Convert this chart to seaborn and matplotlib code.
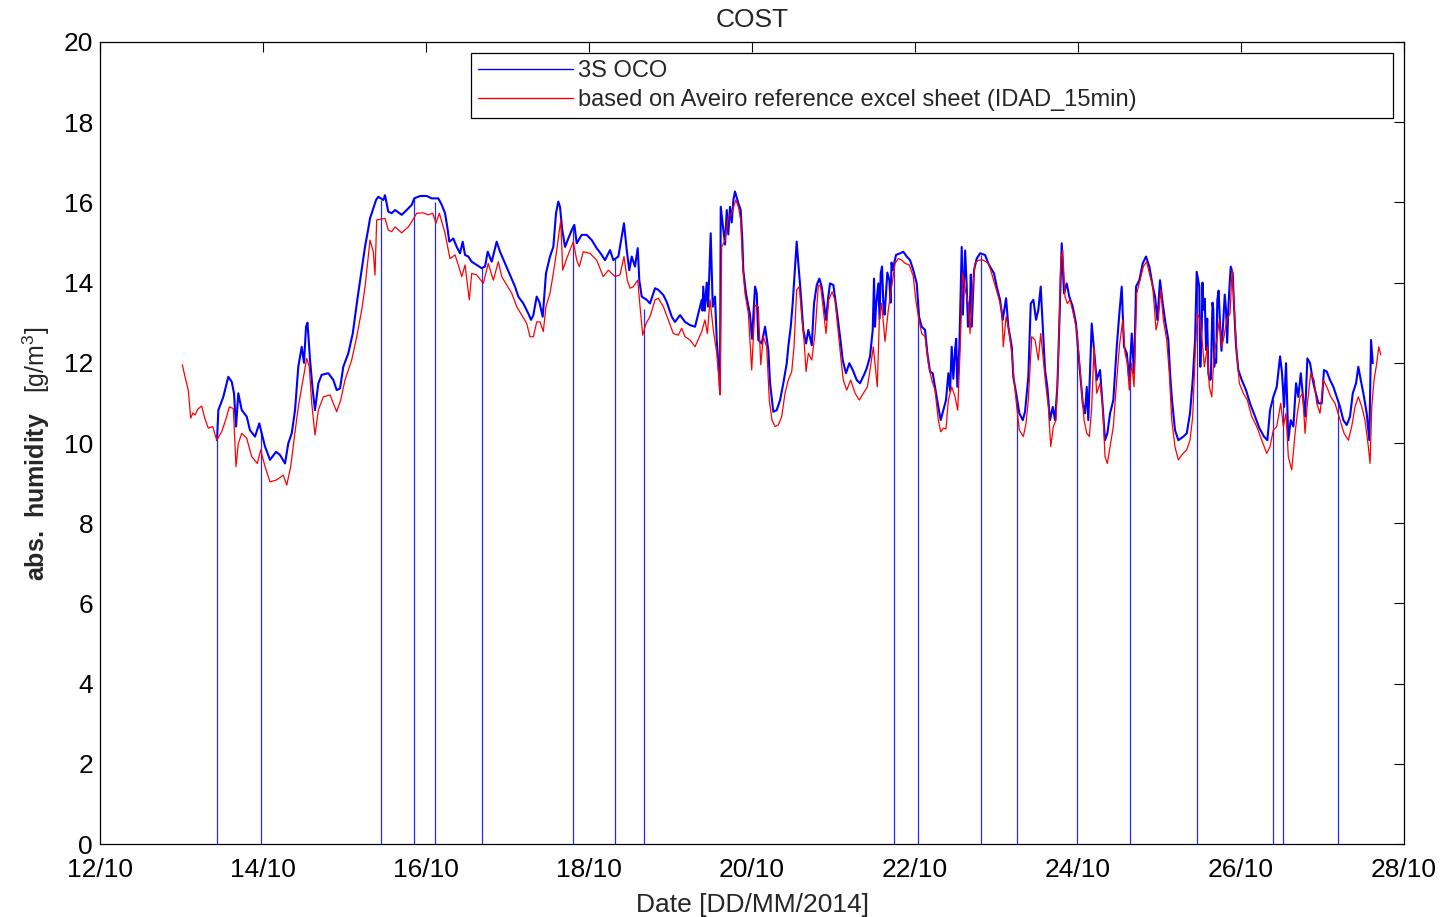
import numpy as np
import pandas as pd
import matplotlib
matplotlib.use("Agg")
import matplotlib.pyplot as plt
import seaborn as sns
from matplotlib.lines import Line2D

# ---- data: absolute humidity, 13/10 - 27/10/2014 (x = day of October) ----
blue_day = [
    13.436, 13.452, 13.513, 13.574, 13.616, 13.644, 13.669, 13.697, 13.739, 13.800, 13.840, 13.902, 13.955, 13.984,
    14.025, 14.086, 14.160, 14.209, 14.270, 14.310, 14.352, 14.393, 14.433, 14.475, 14.503, 14.528, 14.546,
    14.577, 14.610, 14.638, 14.679, 14.720, 14.801, 14.863, 14.904, 14.945, 14.985,
    15.047, 15.101, 15.129, 15.157, 15.202, 15.252, 15.288, 15.313, 15.362, 15.387, 15.415, 15.476, 15.497,
    15.537, 15.579, 15.620, 15.702, 15.763, 15.825, 15.856, 15.926,
    16.009, 16.070, 16.151, 16.193, 16.233, 16.261, 16.286, 16.335, 16.377, 16.417, 16.450, 16.479, 16.519,
    16.561, 16.622, 16.683, 16.724, 16.757, 16.806, 16.867, 16.908, 16.969,
    17.031, 17.092, 17.133, 17.194, 17.255, 17.288, 17.317, 17.358, 17.390, 17.432, 17.472, 17.521, 17.562,
    17.595, 17.623, 17.644, 17.672, 17.706, 17.746, 17.788, 17.820, 17.849, 17.910, 17.972,
    18.033, 18.094, 18.156, 18.196, 18.258, 18.298, 18.360, 18.401, 18.429, 18.463, 18.494, 18.524, 18.564,
    18.598, 18.617, 18.647, 18.708, 18.748, 18.810, 18.850, 18.912, 18.953,
    19.015, 19.055, 19.117, 19.178, 19.239, 19.301, 19.341, 19.383, 19.393, 19.402, 19.420, 19.444, 19.460,
    19.476, 19.493, 19.518, 19.546, 19.567, 19.599, 19.607, 19.616, 19.648, 19.669, 19.690, 19.709, 19.730,
    19.751, 19.771, 19.791, 19.832, 19.861, 19.881, 19.893, 19.926, 19.975,
    20.000, 20.037, 20.058, 20.077, 20.119, 20.160, 20.200, 20.221, 20.261, 20.303, 20.344, 20.384, 20.426,
    20.445, 20.475, 20.499, 20.528, 20.548, 20.568, 20.598, 20.629, 20.663, 20.691, 20.733, 20.761, 20.794,
    20.826, 20.855, 20.883, 20.908, 20.936, 20.957, 20.998,
    21.039, 21.080, 21.113, 21.153, 21.194, 21.236, 21.285, 21.325, 21.374, 21.407, 21.448, 21.481, 21.497,
    21.509, 21.521, 21.550, 21.565, 21.579, 21.595, 21.611, 21.626, 21.644, 21.660, 21.685, 21.700, 21.712,
    21.726, 21.767, 21.816, 21.856, 21.898, 21.939, 21.979,
    22.021, 22.049, 22.082, 22.123, 22.151, 22.184, 22.217, 22.245, 22.286, 22.315, 22.347, 22.380, 22.409,
    22.430, 22.450, 22.470, 22.491, 22.505, 22.519, 22.544, 22.573, 22.587, 22.601, 22.615, 22.634, 22.650,
    22.675, 22.685, 22.696, 22.724, 22.757, 22.798, 22.859, 22.899, 22.920, 22.969,
    23.002, 23.043, 23.076, 23.117, 23.145, 23.187, 23.206, 23.248, 23.280, 23.322, 23.350, 23.390, 23.420,
    23.452, 23.485, 23.513, 23.542, 23.567, 23.595, 23.623, 23.656, 23.690, 23.718, 23.746, 23.771, 23.800,
    23.828, 23.861, 23.893, 23.935, 23.975,
    24.004, 24.033, 24.058, 24.086, 24.107, 24.126, 24.168, 24.196, 24.229, 24.270, 24.303, 24.331, 24.360,
    24.393, 24.433, 24.475, 24.507, 24.536, 24.564, 24.598, 24.629, 24.659, 24.687, 24.712, 24.752, 24.794,
    24.834, 24.875, 24.917, 24.945, 24.973,
    25.006, 25.039, 25.067, 25.108, 25.129, 25.153, 25.190, 25.231, 25.292, 25.334, 25.374, 25.407, 25.436,
    25.456, 25.488, 25.500, 25.518, 25.527, 25.537, 25.555, 25.571, 25.585, 25.599, 25.610, 25.620, 25.630,
    25.641, 25.650, 25.660, 25.670, 25.681, 25.695, 25.709, 25.725, 25.742, 25.760, 25.783, 25.800, 25.816,
    25.830, 25.844, 25.858, 25.874, 25.898, 25.914, 25.939, 25.967,
    26.009, 26.061, 26.110, 26.172, 26.225, 26.282, 26.323, 26.356, 26.396, 26.438, 26.479, 26.503, 26.528,
    26.552, 26.580, 26.610, 26.642, 26.675, 26.703, 26.733, 26.764, 26.785, 26.814, 26.847, 26.880, 26.908,
    26.949, 26.990,
    27.018, 27.052, 27.092, 27.133, 27.174, 27.215, 27.255, 27.297, 27.337, 27.371, 27.411, 27.439, 27.469,
    27.501, 27.542, 27.574, 27.595, 27.616,
]
blue_val = [
    10.07, 10.82, 11.15, 11.65, 11.53, 11.24, 10.41, 11.24, 10.82, 10.66, 10.32, 10.16, 10.49, 10.24,
    9.91, 9.58, 9.78, 9.70, 9.49, 9.99, 10.24, 10.82, 11.90, 12.40, 12.00, 12.90, 13.00,
    12.07, 11.32, 10.82, 11.49, 11.70, 11.74, 11.57, 11.32, 11.36, 11.90,
    12.24, 12.73, 13.15, 13.57, 14.20, 14.90, 15.30, 15.60, 15.90, 16.06, 16.14, 16.06, 16.18,
    15.77, 15.73, 15.81, 15.69, 15.81, 15.94, 16.10, 16.16,
    16.16, 16.10, 16.10, 15.94, 15.73, 15.39, 15.02, 15.10, 14.89, 14.73, 15.02, 14.69, 14.65,
    14.52, 14.44, 14.36, 14.40, 14.77, 14.52, 15.02, 14.77, 14.48,
    14.19, 13.90, 13.65, 13.48, 13.23, 13.07, 13.19, 13.65, 13.52, 13.15, 14.23, 14.65, 14.89,
    15.73, 16.02, 15.89, 15.31, 14.89, 15.10, 15.31, 15.44, 14.98, 15.19, 15.19,
    15.06, 14.86, 14.69, 14.56, 14.81, 14.56, 14.65, 15.14, 15.48, 14.81, 14.31, 14.65, 14.40,
    14.86, 14.06, 13.65, 13.57, 13.48, 13.86, 13.82, 13.69, 13.52,
    13.15, 13.02, 13.19, 13.02, 12.94, 12.90, 13.23, 13.57, 13.30, 13.90, 13.30, 14.00, 13.40,
    14.20, 15.23, 13.40, 13.65, 12.57, 11.65, 11.30, 15.89, 15.31, 14.95, 15.81, 15.20, 15.89,
    15.50, 16.06, 16.27, 15.98, 15.81, 15.06, 14.31, 13.73, 13.20,
    12.60, 13.90, 13.73, 12.57, 12.48, 12.90, 12.32, 11.50, 10.78, 10.82, 11.07, 11.49, 11.99,
    12.40, 12.90, 13.48, 14.40, 15.02, 14.48, 13.73, 12.82, 12.48, 12.82, 12.44, 13.48, 13.94,
    14.10, 13.90, 13.48, 13.07, 13.65, 13.98, 13.94,
    13.32, 12.65, 12.07, 11.74, 11.99, 11.82, 11.57, 11.49, 11.70, 11.86, 12.16, 12.82, 14.10,
    12.90, 13.40, 13.98, 13.10, 14.23, 14.40, 13.48, 13.20, 13.73, 14.25, 14.06, 13.50, 14.50,
    14.31, 14.69, 14.73, 14.77, 14.65, 14.56, 14.31,
    13.98, 13.15, 12.90, 12.82, 12.24, 11.78, 11.74, 11.40, 10.90, 10.57, 10.82, 11.07, 11.74,
    11.30, 12.40, 11.60, 12.32, 12.60, 11.40, 12.40, 14.89, 13.20, 14.06, 14.80, 13.90, 12.90,
    13.48, 14.20, 12.90, 14.31, 14.60, 14.73, 14.69, 14.48, 14.40, 14.23,
    13.90, 13.57, 13.07, 13.61, 12.90, 12.40, 11.65, 11.15, 10.74, 10.57, 10.78, 11.65, 13.48,
    13.57, 13.07, 13.32, 13.90, 12.90, 11.82, 11.40, 10.57, 10.90, 10.57, 11.40, 12.98, 14.98,
    13.73, 13.98, 13.65, 13.40, 12.98,
    12.24, 11.57, 10.99, 10.74, 11.40, 10.57, 12.98, 12.32, 11.57, 11.82, 10.90, 10.07, 10.24,
    10.74, 11.07, 12.40, 13.23, 13.90, 12.40, 12.24, 11.57, 12.73, 11.74, 13.90, 14.06, 14.48,
    14.65, 14.40, 13.90, 13.65, 13.07,
    14.06, 13.48, 13.07, 12.57, 11.74, 11.07, 10.32, 10.07, 10.16, 10.24, 10.74, 11.57, 12.57,
    14.27, 13.90, 11.90, 12.90, 14.00, 13.32, 13.60, 12.32, 13.10, 11.74, 11.60, 11.57, 11.60,
    12.73, 13.50, 13.32, 11.90, 12.07, 12.00, 13.57, 13.80, 12.98, 12.30, 13.07, 13.70, 13.32,
    12.50, 13.32, 13.90, 14.40, 14.23, 13.40, 12.40, 11.82,
    11.57, 11.32, 10.99, 10.66, 10.37, 10.16, 10.07, 10.82, 11.15, 11.40, 12.16, 11.74, 10.90,
    11.99, 10.07, 10.57, 10.41, 11.49, 11.15, 11.74, 11.07, 10.66, 12.11, 11.99, 11.57, 11.32,
    10.99, 10.99,
    11.82, 11.78, 11.57, 11.40, 11.15, 10.90, 10.57, 10.45, 10.66, 11.24, 11.49, 11.90, 11.57,
    11.24, 10.74, 10.07, 12.57, 11.99,
]

# single-sample sensor dropouts of the 3S OCO record (value falls to 0)
dropout_day = [13.436, 13.975, 15.448, 15.853, 16.110, 16.687, 17.804, 18.319, 18.675, 21.742,
               22.037, 22.810, 23.252, 23.988, 24.638, 25.460, 26.393, 26.515, 27.190]
dropout_level = [10.07, 10.30, 16.06, 16.10, 16.02, 14.36, 15.40, 14.60, 13.35, 14.50,
                 13.60, 14.70, 11.00, 12.80, 11.80, 14.20, 11.10, 11.30, 11.00]

red_day = [
    13.010, 13.043, 13.083, 13.113, 13.141, 13.166, 13.202, 13.248, 13.288, 13.329, 13.383, 13.432, 13.493,
    13.546, 13.587, 13.636, 13.669, 13.697, 13.739, 13.800, 13.861, 13.930, 13.972,
    14.025, 14.086, 14.168, 14.249, 14.291, 14.340, 14.380, 14.433, 14.475, 14.536, 14.568, 14.598, 14.638,
    14.679, 14.740, 14.822, 14.904, 14.953,
    15.006, 15.088, 15.150, 15.211, 15.252, 15.288, 15.313, 15.353, 15.374, 15.395, 15.436, 15.497, 15.537,
    15.579, 15.620, 15.702, 15.783, 15.825, 15.886, 15.967,
    16.028, 16.082, 16.123, 16.163, 16.193, 16.233, 16.274, 16.294, 16.356, 16.396, 16.438, 16.479, 16.531,
    16.561, 16.622, 16.703, 16.764, 16.826, 16.887, 16.929, 16.990,
    17.052, 17.113, 17.174, 17.236, 17.276, 17.317, 17.358, 17.399, 17.439, 17.472, 17.521, 17.562, 17.604,
    17.653, 17.677, 17.726, 17.767, 17.807, 17.849, 17.881, 17.930,
    18.012, 18.094, 18.175, 18.237, 18.319, 18.380, 18.429, 18.470, 18.503, 18.544, 18.598, 18.626, 18.659,
    18.699, 18.748, 18.810, 18.850, 18.912, 18.973,
    19.034, 19.096, 19.137, 19.178, 19.239, 19.301, 19.383, 19.423, 19.452, 19.485, 19.525, 19.567, 19.595,
    19.607, 19.628, 19.669, 19.709, 19.751, 19.800, 19.832, 19.861, 19.886, 19.914, 19.955, 19.996,
    20.037, 20.077, 20.107, 20.139, 20.180, 20.212, 20.245, 20.282, 20.323, 20.364, 20.405, 20.445, 20.487,
    20.515, 20.548, 20.580, 20.610, 20.638, 20.663, 20.691, 20.733, 20.773, 20.814, 20.843, 20.875, 20.908,
    20.941, 20.982,
    21.018, 21.059, 21.088, 21.120, 21.162, 21.211, 21.264, 21.317, 21.366, 21.415, 21.448, 21.488, 21.521,
    21.537, 21.562, 21.591, 21.632, 21.672, 21.714, 21.755, 21.795, 21.837, 21.877, 21.930, 21.979,
    22.012, 22.049, 22.082, 22.123, 22.163, 22.205, 22.245, 22.286, 22.315, 22.347, 22.380, 22.409, 22.450,
    22.491, 22.524, 22.552, 22.585, 22.617, 22.654, 22.675, 22.703, 22.736, 22.777, 22.838, 22.899, 22.929,
    22.969,
    23.022, 23.064, 23.083, 23.117, 23.145, 23.187, 23.215, 23.248, 23.280, 23.329, 23.362, 23.390, 23.432,
    23.472, 23.513, 23.542, 23.574, 23.607, 23.636, 23.665, 23.697, 23.730, 23.758, 23.788, 23.812, 23.840,
    23.869, 23.902, 23.942, 23.984,
    24.016, 24.045, 24.074, 24.107, 24.139, 24.168, 24.196, 24.229, 24.270, 24.303, 24.331, 24.360, 24.393,
    24.433, 24.475, 24.507, 24.548, 24.577, 24.605, 24.629, 24.659, 24.687, 24.720, 24.761, 24.801, 24.843,
    24.875, 24.917, 24.957, 24.985,
    25.015, 25.047, 25.088, 25.120, 25.150, 25.190, 25.231, 25.272, 25.334, 25.374, 25.407, 25.436, 25.464,
    25.497, 25.530, 25.550, 25.587, 25.611, 25.641, 25.669, 25.702, 25.734, 25.763, 25.791, 25.825, 25.865,
    25.890, 25.914, 25.947, 25.979,
    26.028, 26.077, 26.131, 26.193, 26.254, 26.315, 26.356, 26.396, 26.438, 26.487, 26.519, 26.552, 26.580,
    26.622, 26.663, 26.691, 26.724, 26.757, 26.785, 26.814, 26.855, 26.896, 26.929, 26.969,
    27.010, 27.052, 27.101, 27.153, 27.215, 27.264, 27.317, 27.358, 27.399, 27.439, 27.481, 27.521, 27.562,
    27.583, 27.604, 27.632, 27.665, 27.690, 27.714,
]
red_val = [
    11.95, 11.65, 11.32, 10.62, 10.75, 10.70, 10.85, 10.92, 10.60, 10.37, 10.41, 10.07, 10.28,
    10.60, 10.90, 10.86, 9.41, 9.99, 10.24, 10.12, 9.66, 9.49, 9.83,
    9.41, 9.03, 9.08, 9.20, 8.95, 9.41, 10.07, 10.90, 11.40, 12.11, 11.90, 10.99, 10.20,
    10.82, 11.15, 11.20, 10.78, 11.07,
    11.57, 12.07, 12.65, 13.32, 13.90, 14.60, 15.06, 14.77, 14.19, 15.56, 15.58, 15.60, 15.31,
    15.27, 15.39, 15.24, 15.39, 15.52, 15.73, 15.74,
    15.69, 15.73, 15.48, 15.73, 15.52, 15.23, 14.81, 14.60, 14.69, 14.44, 14.15, 14.44, 13.57,
    14.23, 14.19, 13.98, 14.48, 14.06, 14.52, 14.15, 13.94,
    13.73, 13.40, 13.19, 12.98, 12.65, 12.65, 13.02, 13.02, 12.78, 13.40, 13.73, 14.23, 14.81,
    15.56, 14.31, 14.60, 14.81, 15.02, 14.56, 14.40, 14.77,
    14.73, 14.56, 14.15, 14.31, 14.15, 14.19, 14.65, 14.06, 13.86, 13.90, 14.06, 13.40, 12.69,
    12.98, 13.15, 13.57, 13.61, 13.40, 13.07,
    12.73, 12.69, 12.86, 12.65, 12.57, 12.40, 12.78, 13.07, 12.73, 13.57, 12.82, 12.24, 11.57,
    11.20, 14.89, 15.06, 15.64, 15.73, 16.06, 15.90, 15.56, 14.40, 13.73, 13.23, 11.82,
    13.44, 13.40, 11.95, 12.65, 12.40, 11.07, 10.57, 10.41, 10.45, 10.66, 11.24, 11.57, 11.78,
    12.40, 13.82, 13.90, 13.15, 12.57, 11.78, 12.24, 12.07, 12.73, 13.94, 13.90, 13.32, 12.73,
    13.57, 13.77,
    13.57, 12.73, 12.16, 11.57, 11.32, 11.57, 11.24, 11.07, 11.24, 11.40, 11.82, 12.40, 11.74,
    11.40, 13.07, 13.48, 12.53, 13.32, 13.90, 14.48, 14.60, 14.56, 14.48, 14.44, 14.15,
    13.52, 13.07, 12.73, 12.65, 11.99, 11.57, 11.32, 10.57, 10.28, 10.37, 10.35, 11.07, 11.40,
    11.15, 10.82, 12.24, 14.23, 13.82, 13.48, 12.73, 13.73, 14.48, 14.56, 14.56, 14.48, 14.31,
    14.02,
    13.65, 13.32, 12.40, 13.15, 12.90, 12.24, 11.57, 10.90, 10.32, 10.16, 10.49, 11.07, 12.65,
    12.57, 12.07, 12.73, 12.07, 11.40, 10.90, 9.91, 10.41, 10.57, 12.07, 14.56, 14.81, 13.65,
    13.48, 13.57, 13.23, 12.82,
    12.07, 11.32, 10.57, 10.24, 10.16, 10.90, 12.40, 11.24, 11.49, 10.90, 9.66, 9.49, 9.91,
    10.41, 11.57, 12.40, 13.07, 12.24, 11.99, 11.32, 11.99, 11.40, 13.73, 14.06, 14.40, 14.52,
    14.23, 13.90, 12.82, 13.07,
    13.82, 13.07, 12.57, 11.74, 10.57, 9.90, 9.58, 9.70, 9.83, 10.07, 10.66, 12.16, 13.23,
    13.07, 12.40, 11.90, 12.40, 11.40, 11.15, 12.24, 12.57, 13.07, 12.40, 12.65, 13.07, 13.23,
    14.31, 13.48, 12.24, 11.49,
    11.24, 11.07, 10.66, 10.41, 10.07, 9.74, 9.91, 10.32, 10.41, 10.99, 10.41, 10.74, 9.66,
    9.33, 10.24, 10.74, 11.15, 11.24, 10.24, 10.99, 11.74, 11.57, 10.99, 10.74,
    11.57, 11.40, 11.15, 10.99, 10.57, 10.24, 10.07, 10.41, 10.91, 11.15, 10.91, 10.57, 9.91,
    9.49, 10.91, 11.57, 11.99, 12.40, 12.20,
]

series_names = ["3S OCO", "based on Aveiro reference excel sheet (IDAD_15min)"]
series_colors = ["#0000FF", "#FF0000"]
x_ticks = [12, 14, 16, 18, 20, 22, 24, 26, 28]
x_tick_labels = ["12/10", "14/10", "16/10", "18/10", "20/10", "22/10", "24/10", "26/10", "28/10"]
y_ticks = [0, 2, 4, 6, 8, 10, 12, 14, 16, 18, 20]

blue_df = pd.DataFrame({"day": blue_day, "value": blue_val}).sort_values("day", kind="stable")
red_df = pd.DataFrame({"day": red_day, "value": red_val})

# ---- style ----
sns.set_theme(style="white")
plt.rcParams["font.family"] = ["Liberation Sans", "DejaVu Sans"]
plt.rcParams["mathtext.fontset"] = "custom"
plt.rcParams["mathtext.rm"] = "Liberation Sans"
plt.rcParams["mathtext.bf"] = "Liberation Sans:bold"

fig = plt.figure(figsize=(14.43, 9.17), dpi=100)
ax = fig.add_axes([0.0693, 0.0796, 0.9037, 0.8746])

# 3S OCO trace, its dropouts to zero, then the reference trace on top
sns.lineplot(data=blue_df, x="day", y="value", sort=False, estimator=None,
             color=series_colors[0], linewidth=1.5, ax=ax)
ax.vlines(dropout_day, 0, dropout_level, colors=series_colors[0], linewidth=0.9, alpha=0.85)
sns.lineplot(data=red_df, x="day", y="value", sort=False, estimator=None,
             color=series_colors[1], linewidth=0.9, ax=ax)

ax.set_xlim(12, 28)
ax.set_ylim(0, 20)
ax.set_xticks(x_ticks)
ax.set_xticklabels(x_tick_labels)
ax.set_yticks(y_ticks)
ax.set_yticklabels([str(v) for v in y_ticks])
ax.tick_params(axis="both", which="both", direction="in", length=7, width=0.8,
               top=True, right=True, labelsize=19, pad=5, colors="black")
ax.tick_params(axis="x", pad=10)
for s in ax.spines.values():
    s.set_visible(True)
    s.set_color("black")
    s.set_linewidth(0.9)

ax.set_title("COST", fontsize=19, pad=11)
ax.set_xlabel("Date [DD/MM/2014]", fontsize=19, labelpad=8)
ax.set_ylabel(r"$\mathbf{abs.\ humidity}$   [g/m$^{3}$]", fontsize=18)
ax.yaxis.set_label_coords(-0.037, 0.486)

handles = [Line2D([], [], color=c, linewidth=1.0) for c in series_colors]
leg = ax.legend(handles, series_names, loc="upper left",
                bbox_to_anchor=(0.2845, 0.9077, 0.707, 0.0786), mode="expand",
                borderaxespad=0.0, fontsize=17, handlelength=4.0, handletextpad=0.25,
                labelspacing=0.3, borderpad=0.3, fancybox=False, framealpha=1.0,
                edgecolor="black")
leg.get_frame().set_linewidth(0.9)

fig.savefig("out.png", dpi=100, facecolor="white")
